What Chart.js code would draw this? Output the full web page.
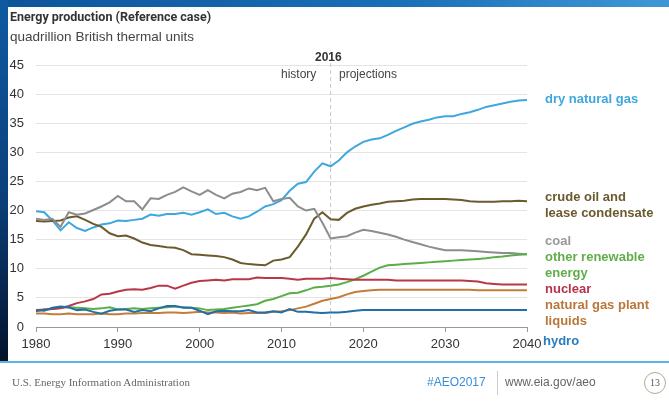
<!DOCTYPE html>
<html>
<head>
<meta charset="utf-8">
<script src="https://cdn.jsdelivr.net/npm/chart.js@4.4.1/dist/chart.umd.min.js"></script>
<style>
    body { margin: 0; width: 669px; height: 405px; overflow: hidden; background: #fff; position: relative; font-family: "Liberation Sans", Arial, sans-serif; }
    #bg-top { position: absolute; left: 0; top: 0; width: 669px; height: 7px; background: linear-gradient(90deg, #0c5499, #1a6fb8 60%, #3f98d6); }
    #bg-left { position: absolute; left: 0; top: 0; width: 8px; height: 362px; background: linear-gradient(180deg, #0f5aa2, #0b3f7a 55%, #03132a); }
    #rule { position: absolute; left: 0; top: 361px; width: 669px; height: 2px; background: #5ab6e2; }
    #wrap { position: absolute; left: 0; top: 0; width: 669px; height: 405px; }
    .t { position: absolute; white-space: nowrap; line-height: 1; }
    .lbl { position: absolute; white-space: nowrap; font-weight: bold; font-size: 13px; line-height: 16px; left: 545px; }
</style>
</head>
<body>
<div id="bg-top"></div>
<div id="bg-left"></div>
<div id="rule"></div>
<div id="wrap"><canvas id="chart" width="669" height="405"></canvas></div>

<div class="t" style="left:10px; top:11px; font-family:Roboto, sans-serif; font-size:12.5px; font-weight:bold; color:#333;">Energy production (Reference case)</div>
<div class="t" style="left:10px; top:30px; font-size:13px; color:#444; transform:scaleX(1.04); transform-origin:left top;">quadrillion British thermal units</div>

<div class="t" style="left:315px; top:51px; font-size:12px; font-weight:bold; color:#333;">2016</div>
<div class="t" style="left:281px; top:68px; font-size:12px; color:#444;">history</div>
<div class="t" style="left:339px; top:68px; font-size:12px; color:#444;">projections</div>

<div class="lbl" style="top:91px; color:#3ea7df;">dry natural gas</div>
<div class="lbl" style="top:189px; color:#6b5a2e;">crude oil and<br>lease condensate</div>
<div class="lbl" style="top:233px; color:#999;">coal</div>
<div class="lbl" style="top:249px; color:#62ad4a;">other renewable<br>energy</div>
<div class="lbl" style="top:281px; color:#b5344a;">nuclear</div>
<div class="lbl" style="top:297px; color:#b9773a;">natural gas plant<br>liquids</div>
<div class="lbl" style="top:333px; left:543px; color:#2a7cc0;">hydro</div>

<div class="t" style="left:12px; top:377px; font-family:'Liberation Serif', serif; font-size:11px; color:#666;">U.S. Energy Information Administration</div>
<div class="t" style="left:427px; top:376px; font-size:12px; color:#3a8ed6;">#AEO2017</div>
<div style="position:absolute; left:497px; top:371px; width:1px; height:24px; background:#ccc;"></div>
<div class="t" style="left:505px; top:376px; font-size:12px; color:#666;">www.eia.gov/aeo</div>
<div style="position:absolute; left:644px; top:372px; width:20px; height:20px; border:1.5px solid #a3b28f; border-radius:50%; font-family:'Liberation Serif', serif; font-size:10px; color:#555; text-align:center; line-height:20px;">13</div>

<script>
document.addEventListener('DOMContentLoaded', function () {
    // --- Datos (quadrillion Btu), 1980-2040 ---
    const years = [];
    for (let y = 1980; y <= 2040; y++) years.push(y);

    const dryNaturalGas = [19.9, 19.7, 18.3, 16.6, 18.0, 17.0, 16.5, 17.1, 17.6, 17.8,
        18.3, 18.2, 18.4, 18.6, 19.3, 19.1, 19.4, 19.4, 19.6, 19.3,
        19.7, 20.2, 19.4, 19.6, 19.0, 18.6, 19.0, 19.8, 20.7, 21.1,
        21.8, 23.4, 24.6, 24.9, 26.7, 28.1, 27.6, 28.6, 30.0, 31.0,
        31.8, 32.2, 32.4, 33.0, 33.7, 34.3, 34.9, 35.3, 35.6, 36.0,
        36.2, 36.2, 36.6, 36.9, 37.3, 37.8, 38.1, 38.4, 38.7, 38.9, 39.0];
    const crudeOil = [18.2, 18.1, 18.2, 18.3, 18.8, 19.0, 18.4, 17.7, 17.2, 16.1,
        15.6, 15.7, 15.2, 14.5, 14.1, 13.9, 13.7, 13.6, 13.2, 12.5,
        12.4, 12.3, 12.2, 12.0, 11.6, 11.0, 10.8, 10.7, 10.6, 11.4,
        11.6, 12.0, 13.8, 15.9, 18.6, 19.7, 18.5, 18.4, 19.6, 20.3,
        20.7, 21.0, 21.2, 21.5, 21.6, 21.7, 21.9, 22.0, 22.0, 22.0,
        22.0, 21.9, 21.8, 21.6, 21.5, 21.5, 21.5, 21.6, 21.6, 21.7, 21.6];
    const coal = [18.6, 18.4, 18.6, 17.2, 19.7, 19.3, 19.5, 20.1, 20.7, 21.4,
        22.5, 21.6, 21.6, 20.2, 22.1, 22.0, 22.7, 23.2, 24.0, 23.3,
        22.7, 23.5, 22.7, 22.1, 22.9, 23.2, 23.8, 23.5, 23.9, 21.6,
        22.0, 22.2, 20.7, 20.0, 20.3, 17.9, 15.2, 15.4, 15.6, 16.2,
        16.7, 16.5, 16.2, 15.9, 15.5, 15.0, 14.6, 14.2, 13.8, 13.5,
        13.2, 13.2, 13.2, 13.1, 13.0, 12.9, 12.8, 12.7, 12.7, 12.6, 12.5];
    const otherRenewable = [2.9, 3.0, 3.1, 3.3, 3.4, 3.3, 3.2, 3.1, 3.2, 3.4,
        3.0, 3.1, 3.2, 3.1, 3.2, 3.3, 3.4, 3.5, 3.4, 3.3,
        3.2, 2.9, 3.0, 3.1, 3.3, 3.5, 3.7, 3.9, 4.5, 4.8,
        5.3, 5.8, 5.9, 6.3, 6.8, 6.9, 7.1, 7.3, 7.7, 8.2,
        8.8, 9.5, 10.2, 10.6, 10.7, 10.8, 10.9, 11.0, 11.1, 11.2,
        11.3, 11.4, 11.5, 11.6, 11.7, 11.8, 12.0, 12.1, 12.3, 12.4, 12.5];
    const nuclear = [2.7, 3.0, 3.1, 3.2, 3.6, 4.1, 4.4, 4.8, 5.6, 5.7,
        6.1, 6.4, 6.5, 6.4, 6.7, 7.1, 7.1, 6.6, 7.1, 7.6,
        7.9, 8.0, 8.1, 8.0, 8.2, 8.2, 8.2, 8.5, 8.4, 8.4,
        8.4, 8.3, 8.1, 8.3, 8.3, 8.3, 8.4, 8.3, 8.2, 8.1,
        8.1, 8.1, 8.1, 8.1, 8.0, 8.0, 8.0, 8.0, 8.0, 8.0,
        8.0, 8.0, 8.0, 7.9, 7.8, 7.5, 7.4, 7.3, 7.3, 7.3, 7.3];
    const ngPlantLiquids = [2.3, 2.3, 2.2, 2.2, 2.3, 2.2, 2.2, 2.2, 2.3, 2.2,
        2.2, 2.3, 2.3, 2.4, 2.4, 2.4, 2.5, 2.5, 2.4, 2.5,
        2.6, 2.5, 2.5, 2.4, 2.5, 2.3, 2.4, 2.4, 2.4, 2.6,
        2.7, 2.9, 3.2, 3.5, 4.0, 4.5, 4.8, 5.1, 5.6, 6.0,
        6.2, 6.3, 6.4, 6.4, 6.4, 6.4, 6.4, 6.4, 6.4, 6.4,
        6.4, 6.4, 6.4, 6.4, 6.3, 6.3, 6.3, 6.3, 6.3, 6.3, 6.3];
    const hydro = [2.9, 2.8, 3.3, 3.5, 3.4, 2.9, 3.0, 2.6, 2.3, 2.8,
        3.0, 3.0, 2.6, 2.9, 2.7, 3.2, 3.6, 3.6, 3.3, 3.3,
        2.8, 2.2, 2.7, 2.8, 2.7, 2.7, 2.9, 2.5, 2.5, 2.7,
        2.5, 3.1, 2.6, 2.6, 2.5, 2.4, 2.5, 2.5, 2.6, 2.8,
        2.9, 2.9, 2.9, 2.9, 2.9, 2.9, 2.9, 2.9, 2.9, 2.9,
        2.9, 2.9, 2.9, 2.9, 2.9, 2.9, 2.9, 2.9, 2.9, 2.9, 2.9];

    const yTicks = [0, 5, 10, 15, 20, 25, 30, 35, 40, 45];
    const xTicks = [1980, 1990, 2000, 2010, 2020, 2030, 2040];
    const splitYear = 2016;

    const series = [
        { label: 'dry natural gas', data: dryNaturalGas, color: '#3ea7df' },
        { label: 'crude oil and lease condensate', data: crudeOil, color: '#6b5a2e' },
        { label: 'coal', data: coal, color: '#8d8d8d' },
        { label: 'other renewable energy', data: otherRenewable, color: '#5aae48' },
        { label: 'nuclear', data: nuclear, color: '#b83848' },
        { label: 'natural gas plant liquids', data: ngPlantLiquids, color: '#c27c3b' },
        { label: 'hydro', data: hydro, color: '#226fa8' }
    ];

    // Línea punteada del año de corte historia/proyecciones
    const splitLine = {
        id: 'splitLine',
        beforeDatasetsDraw(chart) {
            const x = chart.scales.x.getPixelForValue(splitYear);
            const ctx = chart.ctx;
            ctx.save();
            ctx.strokeStyle = '#c8c8c8';
            ctx.lineWidth = 1;
            ctx.setLineDash([4, 3]);
            ctx.beginPath();
            ctx.moveTo(x, chart.chartArea.top - 2);
            ctx.lineTo(x, chart.chartArea.bottom);
            ctx.stroke();
            ctx.restore();
        }
    };

    new Chart(document.getElementById('chart').getContext('2d'), {
        type: 'line',
        data: {
            datasets: series.map(s => ({
                label: s.label,
                data: s.data.map((v, i) => ({ x: years[i], y: v })),
                borderColor: s.color,
                borderWidth: 2,
                pointRadius: 0,
                tension: 0
            })).reverse()
        },
        options: {
            responsive: false,
            animation: false,
            layout: { padding: { left: 0, top: 65, right: 142, bottom: 0 } },
            plugins: { legend: { display: false }, tooltip: { enabled: false } },
            scales: {
                x: {
                    type: 'linear',
                    min: xTicks[0],
                    max: xTicks[xTicks.length - 1],
                    afterFit: scale => { scale.height = 78; },
                    afterBuildTicks: scale => { scale.ticks = xTicks.map(v => ({ value: v })); },
                    ticks: { callback: v => String(v), color: '#333', font: { size: 13, family: 'Liberation Sans' }, padding: 5, maxRotation: 0 },
                    grid: { drawOnChartArea: false, drawTicks: true, tickLength: 5, color: '#999' },
                    border: { color: '#999', width: 1 }
                },
                y: {
                    min: 0,
                    max: 45,
                    afterFit: scale => { scale.width = 36; },
                    afterBuildTicks: scale => { scale.ticks = yTicks.map(v => ({ value: v })); },
                    ticks: { color: '#333', font: { size: 13, family: 'Liberation Sans' }, padding: 12 },
                    grid: { color: '#e4e4e4', drawTicks: false },
                    border: { display: false }
                }
            }
        },
        plugins: [splitLine]
    });
});
</script>
</body>
</html>
